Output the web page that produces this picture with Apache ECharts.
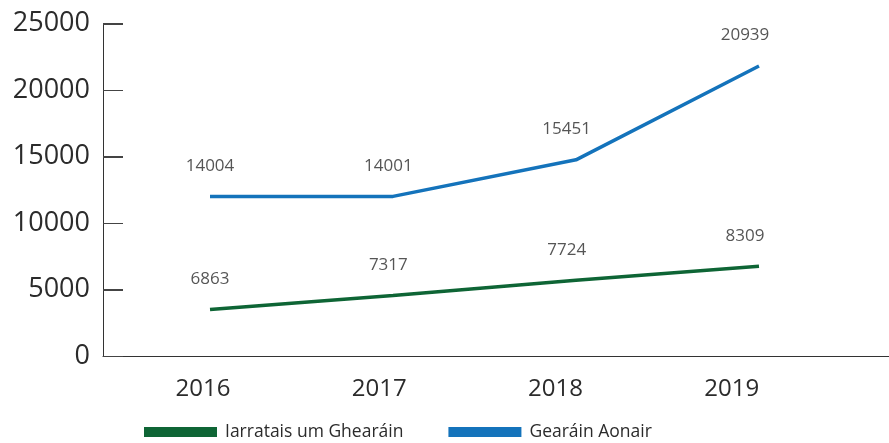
<!DOCTYPE html>
<html>
<head>
<meta charset="utf-8">
<script src="https://cdn.jsdelivr.net/npm/echarts@6/dist/echarts.min.js"></script>
<style>
  html, body { margin: 0; padding: 0; background: #fff; }
  #chart { width: 889px; height: 443px; }
</style>
</head>
<body>
<div id="chart"></div>
<script>
// years on the x axis
const years = [2016, 2017, 2018, 2019]
// where the lines are drawn
const individualLine = [12000, 12000, 14750, 21800]
const requestLine = [3500, 4550, 5700, 6750]
// the numbers printed above the lines
const individualLabels = [14004, 14001, 15451, 20939]
const requestLabels = [6863, 7317, 7724, 8309]
const seriesNames = ['Iarratais um Ghearáin', 'Gearáin Aonair']
const yTicks = [0, 5000, 10000, 15000, 20000, 25000]

const blue = '#1473bb'
const green = '#0e6535'
const textColor = '#2b2b2b'
const font = 'Open Sans'

const pairs = vals => years.map((y, i) => [y, vals[i]])

// transparent carrier series for the printed numbers
function labelSeries(vals, labels) {
  return {
    type: 'scatter',
    xAxisIndex: 1,
    data: pairs(vals),
    symbolSize: 2,
    itemStyle: { color: 'rgba(0,0,0,0)' },
    silent: true,
    z: 5,
    label: {
      show: true,
      position: 'top',
      distance: 21,
      color: textColor,
      fontFamily: font,
      fontSize: 17,
      formatter: p => labels[p.dataIndex]
    }
  }
}

const chart = echarts.init(document.getElementById('chart'))
chart.setOption({
  animation: false,
  textStyle: { fontFamily: font },
  grid: { left: 103, right: 0, top: 23.5, bottom: 87, containLabel: false },
  legend: {
    data: [seriesNames[0], seriesNames[1]],
    left: 144,
    top: 423,
    padding: 0,
    icon: 'rect',
    itemWidth: 73,
    itemHeight: 10,
    itemGap: 45,
    textStyle: { color: textColor, fontSize: 17.5, fontFamily: font, padding: [0, 0, 0, 3] }
  },
  xAxis: [
    {
      type: 'value', min: 2015.4153, max: 2019.7104,
      axisLine: { show: true, lineStyle: { color: '#333', width: 1 } },
      axisTick: { show: false }, axisLabel: { show: false }, splitLine: { show: false }
    },
    {
      type: 'value', min: 2015.4, max: 2019.8075,
      axisLine: { show: false }, axisTick: { show: false }, axisLabel: { show: false }, splitLine: { show: false }
    },
    {
      type: 'value', min: 2015.4325, max: 2019.8927, position: 'bottom',
      axisLine: { show: false }, axisTick: { show: false }, splitLine: { show: false },
      axisLabel: {
        customValues: years, margin: 21, color: textColor, fontSize: 24, fontFamily: font,
        formatter: v => String(v)
      }
    }
  ],
  yAxis: {
    type: 'value', min: 0, max: 25000, interval: 5000, splitLine: { show: false },
    axisLine: { show: true, onZero: false, lineStyle: { color: '#333', width: 1 } },
    axisTick: { show: true, inside: true, length: 20, lineStyle: { color: '#444', width: 1 } },
    axisLabel: { margin: 13, color: textColor, fontSize: 27, fontFamily: font, formatter: v => String(v) }
  },
  series: [
    {
      name: seriesNames[0], type: 'line', data: pairs(requestLine),
      symbol: 'none', color: green, lineStyle: { width: 3.5, color: green }
    },
    {
      name: seriesNames[1], type: 'line', data: pairs(individualLine),
      symbol: 'none', color: blue, lineStyle: { width: 3.5, color: blue }
    },
    labelSeries(requestLine, requestLabels),
    labelSeries(individualLine, individualLabels)
  ]
})

// short tick marks on the inner side of the y axis, placed through the axis scale
const axisX = chart.convertToPixel({ xAxisIndex: 0 }, 2015.4153)
chart.setOption({
  graphic: yTicks.map(v => {
    const y = Math.round(chart.convertToPixel({ yAxisIndex: 0 }, v)) + 0.5
    return {
      type: 'line',
      silent: true,
      z: 100,
      shape: { x1: axisX, y1: y, x2: axisX + 20, y2: y },
      style: { stroke: '#444', lineWidth: 1 }
    }
  })
})
</script>
</body>
</html>
